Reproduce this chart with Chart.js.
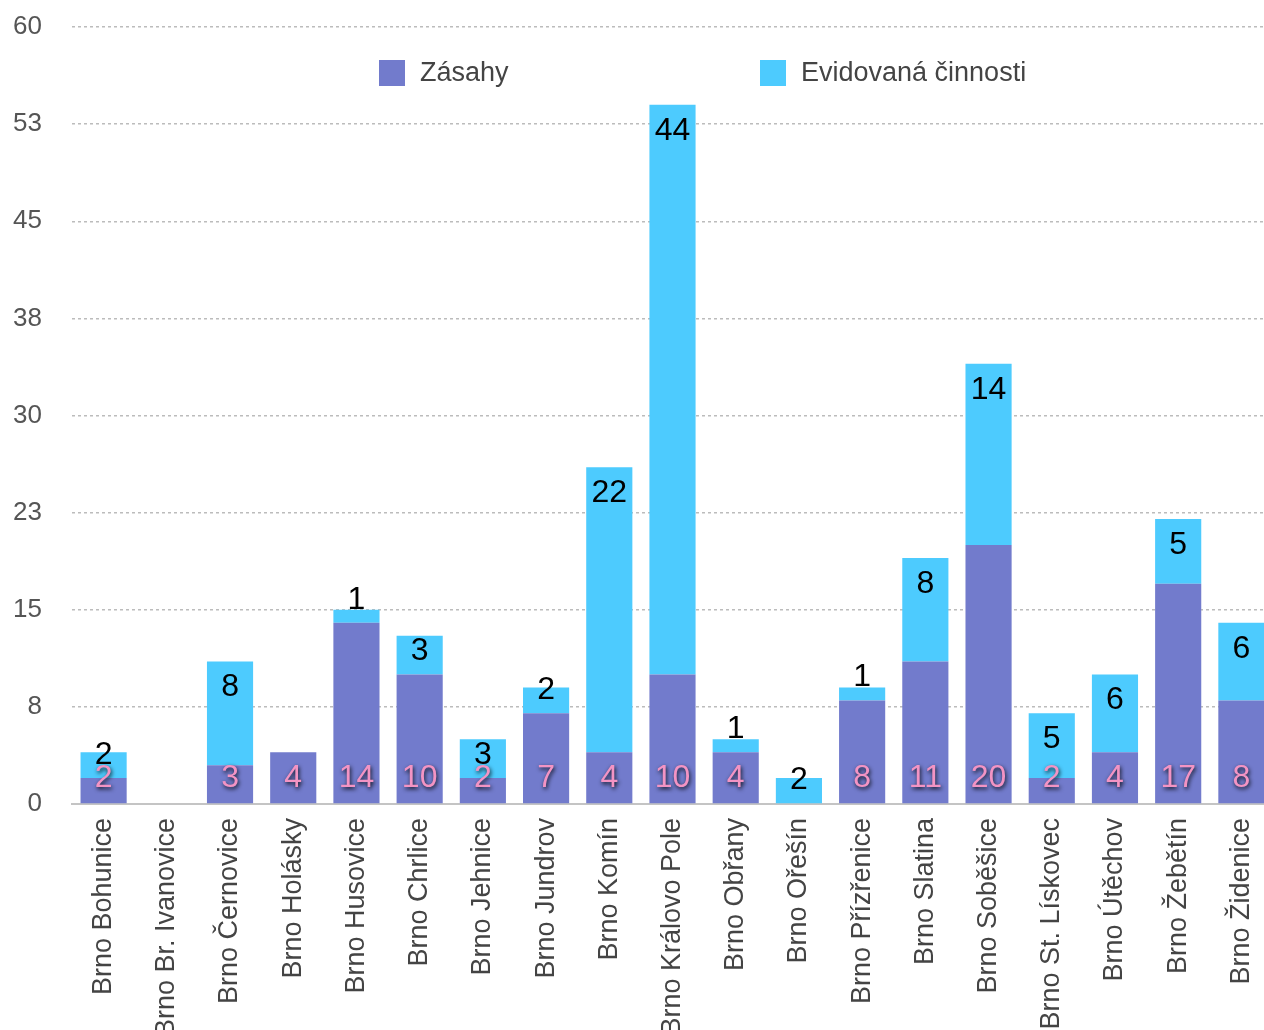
<!DOCTYPE html>
<html>
<head>
<meta charset="utf-8">
<title>Zásahy a evidovaná činnost</title>
<script src="https://cdn.jsdelivr.net/npm/chart.js@4/dist/chart.umd.min.js"></script>
<style>
  html, body { margin: 0; padding: 0; background: #fff; overflow: hidden; }
  #wrap { width: 1273px; height: 1030px; }
</style>
</head>
<body>
<div id="wrap"><canvas id="chart" width="1273" height="1030"></canvas></div>
<script>
const categories = [
  'Brno Bohunice', 'Brno Br. Ivanovice', 'Brno Černovice', 'Brno Holásky',
  'Brno Husovice', 'Brno Chrlice', 'Brno Jehnice', 'Brno Jundrov',
  'Brno Komín', 'Brno Královo Pole', 'Brno Obřany', 'Brno Ořešín',
  'Brno Přízřenice', 'Brno Slatina', 'Brno Soběšice', 'Brno St. Lískovec',
  'Brno Útěchov', 'Brno Žebětín', 'Brno Židenice'
];
const zasahy = [2, 0, 3, 4, 14, 10, 2, 7, 4, 10, 4, 0, 8, 11, 20, 2, 4, 17, 8];
const evidovana = [2, 0, 8, 0, 1, 3, 3, 2, 22, 44, 1, 2, 1, 8, 14, 5, 6, 5, 6];
const seriesNames = ['Zásahy', 'Evidovaná činnosti'];
const seriesColors = ['#727bcc', '#4dcbfe'];

const FONT = "'Liberation Sans', Arial, Helvetica, sans-serif";

// value labels + legend drawn on top of the plot
const overlay = {
  id: 'overlay',
  afterDatasetsDraw(chart) {
    const ctx = chart.ctx;
    ctx.save();
    ctx.textAlign = 'center';
    ctx.textBaseline = 'middle';
    ctx.font = '32px ' + FONT;

    chart.getDatasetMeta(0).data.forEach((bar, i) => {
      const v = zasahy[i];
      if (!v) return;
      ctx.save();
      ctx.shadowColor = 'rgba(0,0,0,0.9)';
      ctx.shadowBlur = 4;
      ctx.shadowOffsetX = 1;
      ctx.shadowOffsetY = 2;
      ctx.fillStyle = '#f394c4';
      ctx.fillText(String(v), bar.x, bar.base - 25);
      ctx.restore();
    });

    chart.getDatasetMeta(1).data.forEach((bar, i) => {
      const v = evidovana[i];
      if (!v) return;
      const y = Math.min(bar.y + 26, bar.base - 23);
      ctx.fillStyle = '#000';
      ctx.fillText(String(v), bar.x, y);
    });

    // legend
    const area = chart.chartArea;
    const ly = area.top + 46;
    const items = [area.left + 307, area.left + 688];
    ctx.textAlign = 'left';
    ctx.font = '27px ' + FONT;
    items.forEach((x, k) => {
      ctx.fillStyle = seriesColors[k];
      ctx.fillRect(x, ly - 13, 26, 26);
      ctx.fillStyle = '#444';
      ctx.fillText(seriesNames[k], x + 41, ly + 1);
    });
    ctx.restore();
  }
};

new Chart(document.getElementById('chart'), {
  type: 'bar',
  data: {
    labels: categories,
    datasets: [
      { label: seriesNames[0], data: zasahy, backgroundColor: seriesColors[0] },
      { label: seriesNames[1], data: evidovana, backgroundColor: seriesColors[1] }
    ]
  },
  options: {
    responsive: false,
    animation: false,
    layout: { padding: { top: 27, left: 0, right: 0, bottom: 0 } },
    datasets: { bar: { categoryPercentage: 1, barPercentage: 0.73, borderWidth: 0 } },
    plugins: { legend: { display: false }, tooltip: { enabled: false } },
    scales: {
      x: {
        stacked: true,
        grid: { display: false },
        border: { display: true, color: '#c4c4c4', width: 2 },
        ticks: {
          color: '#444',
          font: { family: FONT, size: 27 },
          minRotation: 90,
          maxRotation: 90,
          autoSkip: false,
          padding: 6
        },
        afterFit(scale) {
          scale.height = 226;
          scale.paddingLeft = 0;
          scale.paddingRight = 0;
        }
      },
      y: {
        stacked: true,
        min: 0,
        max: 60,
        z: 1,
        grid: {
          drawTicks: false,
          color: ctx => ctx.tick && ctx.tick.value === 0 ? 'rgba(0,0,0,0)' : 'rgba(160,160,160,0.7)',
          lineWidth: 1.5
        },
        border: { display: false, dash: [3, 3] },
        ticks: {
          stepSize: 7.5,
          color: '#555',
          padding: 30,
          font: { family: FONT, size: 26 },
          callback: v => Math.round(v)
        },
        afterFit(scale) {
          scale.width = 72;
          scale.paddingTop = 0;
          scale.paddingBottom = 0;
        }
      }
    }
  },
  plugins: [overlay]
});
</script>
</body>
</html>
